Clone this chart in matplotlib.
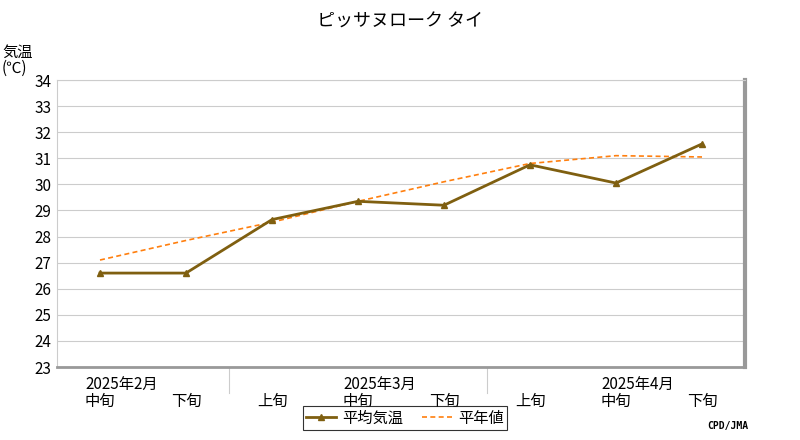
import matplotlib
matplotlib.use("Agg")
import matplotlib.pyplot as plt

plt.rcParams["font.family"] = "Noto Sans CJK JP"

periods = ["中旬", "下旬", "上旬", "中旬", "下旬", "上旬", "中旬", "下旬"]
months = ["2025年2月", "2025年3月", "2025年4月"]
month_pos = [0.25, 3.25, 6.25]
month_sep = [1.5, 4.5]
avg_temp = [26.6, 26.6, 28.65, 29.35, 29.2, 30.75, 30.05, 31.55]
normal = [27.1, 27.85, 28.55, 29.35, 30.1, 30.8, 31.1, 31.05]

fig = plt.figure(figsize=(8, 4.4), dpi=100, facecolor="white")
ax = fig.add_axes([57 / 800, 1 - 367 / 440, 688 / 800, 287 / 440])
x = list(range(len(periods)))

ax.plot(x, normal, color="#ff7f0e", linestyle=(0, (3, 2)), linewidth=1.2, zorder=3)
ax.plot(x, avg_temp, color="#7f5f10", linewidth=2, marker="^", markersize=5, zorder=4)

ax.set_xlim(-0.5, 7.5)
ax.set_ylim(23, 34)
ax.set_yticks(range(23, 35))
ax.tick_params(axis="y", length=0, labelsize=11, pad=4)
ax.grid(axis="y", color="#cccccc", linewidth=0.8)
ax.set_xticks([])
for s in ax.spines.values():
    s.set_color("#cccccc")
ax.spines["right"].set_color("#999999")
ax.spines["right"].set_linewidth(3)
ax.spines["bottom"].set_color("#999999")
ax.spines["bottom"].set_linewidth(2)

for i, p in enumerate(periods):
    ax.text(i, -0.12, p, transform=ax.get_xaxis_transform(), ha="center", va="center", fontsize=11)
for m, pos in zip(months, month_pos):
    ax.text(pos, -0.06, m, transform=ax.get_xaxis_transform(), ha="center", va="center", fontsize=11)
for sp in month_sep:
    ax.plot([sp, sp], [0, -0.09], transform=ax.get_xaxis_transform(), color="#cccccc",
            linewidth=0.8, clip_on=False)

fig.text(0.5, 1 - 22 / 440, "ピッサヌローク タイ", ha="center", va="center", fontsize=13)
fig.text(2 / 800, 1 - 60 / 440, "気温\n(℃)", ha="left", va="center", fontsize=11, linespacing=0.9)
fig.text(748 / 800, 1 - 426 / 440, "CPD/JMA", ha="right", va="center", fontsize=7,
         family="DejaVu Sans Mono", fontweight="bold")

leg = fig.legend(["平年値"], loc="center", bbox_to_anchor=(405 / 800, 1 - 418 / 440))
leg.remove()
h1, = ax.plot([], [], color="#7f5f10", linewidth=2, marker="^", markersize=5)
h2, = ax.plot([], [], color="#ff7f0e", linestyle=(0, (3, 2)), linewidth=1.2)
leg = fig.legend([h1, h2], ["平均気温", "平年値"], loc="center", ncol=2,
                 bbox_to_anchor=(405 / 800, 1 - 418 / 440), fontsize=11, frameon=True,
                 fancybox=False, edgecolor="black", borderpad=0.2, handlelength=2,
                 columnspacing=1.2, handletextpad=0.4)
leg.get_frame().set_linewidth(0.8)

fig.savefig("out.png", dpi=100)
